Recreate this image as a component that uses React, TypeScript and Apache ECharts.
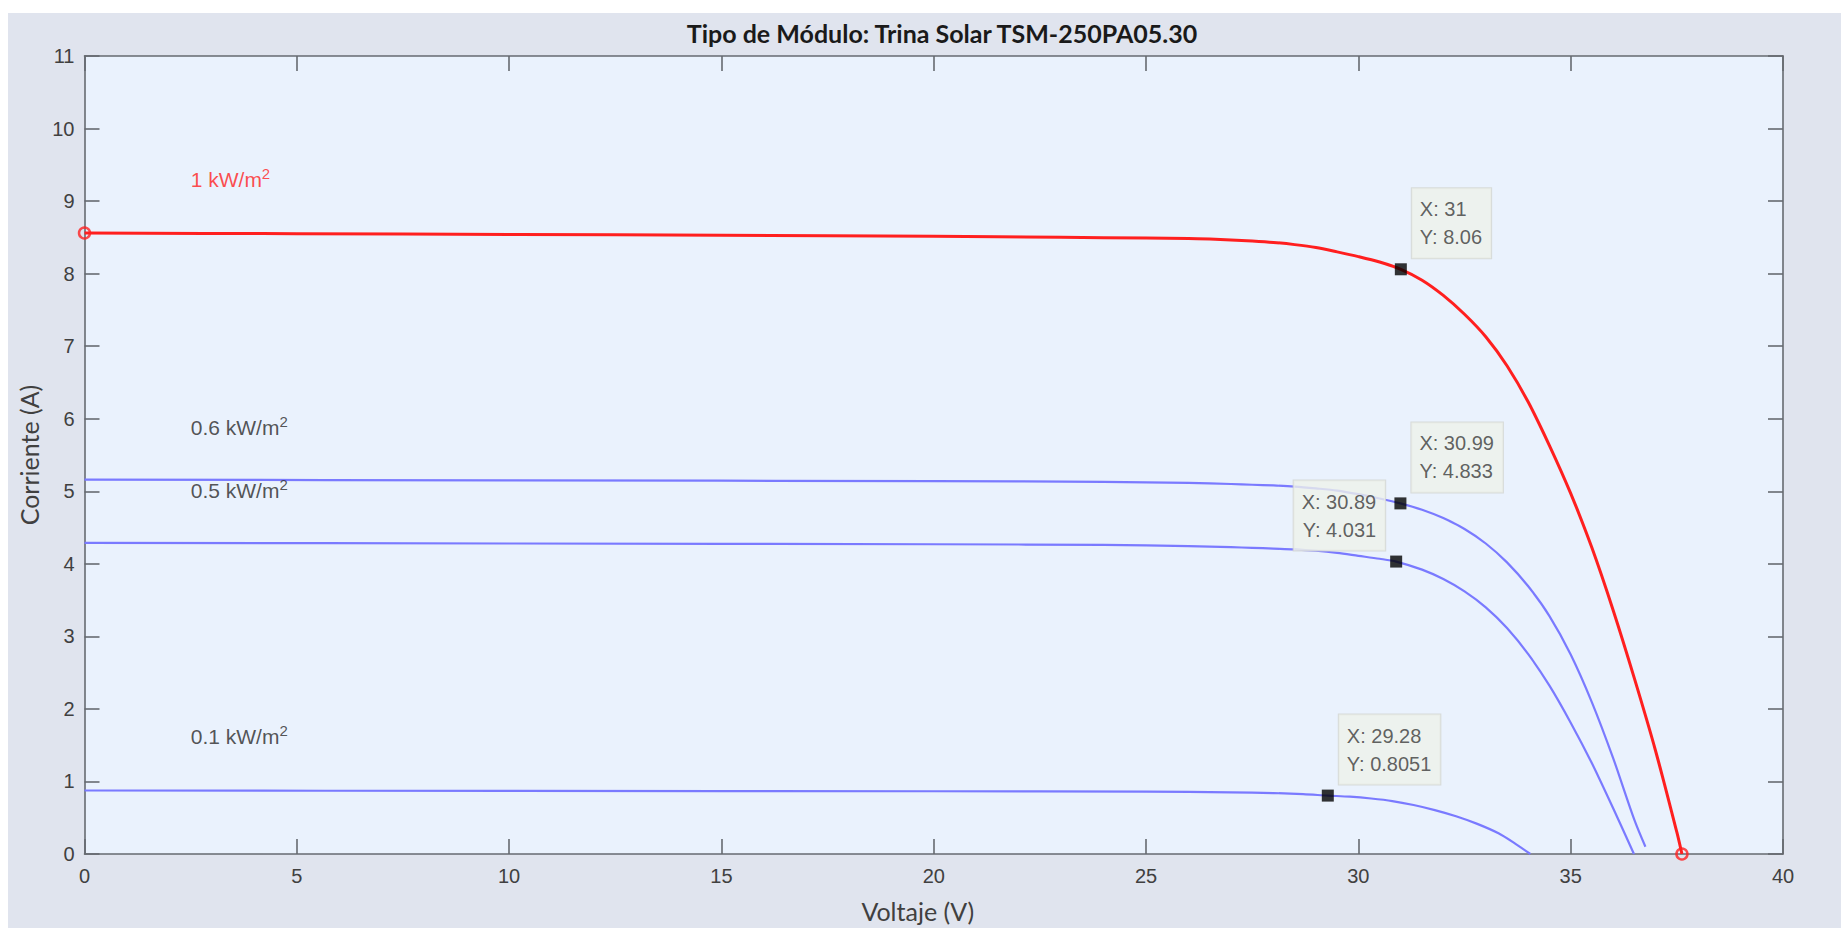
import React, { useEffect, useRef } from 'react';
import * as echarts from 'echarts';

const titleText = 'Tipo de Módulo: Trina Solar TSM-250PA05.30';
const xName = 'Voltaje (V)';
const yName = 'Corriente (A)';

const X_MIN = 0;
const X_MAX = 40;
const X_STEP = 5;
const Y_MIN = 0;
const Y_MAX = 11;
const Y_STEP = 1;

// 1 kW/m2 curve
const v1000 = [0, 5, 10, 15, 20, 23, 25, 26, 26.5, 27, 27.5, 28, 28.5, 29, 29.5, 30, 30.5, 31, 31.5, 32, 32.5, 33, 33.5, 34, 34.5, 35, 35.5, 36, 36.5, 37, 37.5, 37.62];
const i1000 = [8.56, 8.55, 8.54, 8.53, 8.515, 8.5, 8.49, 8.484, 8.476, 8.465, 8.45, 8.43, 8.4, 8.36, 8.3, 8.235, 8.16, 8.06, 7.91, 7.7, 7.44, 7.13, 6.73, 6.23, 5.63, 4.97, 4.22, 3.36, 2.42, 1.42, 0.3, 0];

// 0.6 kW/m2 curve
const v600 = [0, 10, 20, 24, 26, 27, 27.5, 28, 28.5, 29, 29.5, 30, 30.5, 30.99, 31.5, 32, 32.5, 33, 33.5, 34, 34.5, 35, 35.5, 36, 36.5, 36.76];
const i600 = [5.16, 5.15, 5.14, 5.13, 5.115, 5.1, 5.09, 5.08, 5.065, 5.04, 5.01, 4.96, 4.9, 4.833, 4.745, 4.63, 4.48, 4.28, 4.02, 3.69, 3.28, 2.75, 2.09, 1.32, 0.47, 0.1];

// 0.5 kW/m2 curve
const v500 = [0, 10, 20, 24, 26, 27, 27.5, 28, 28.5, 29, 29.5, 30, 30.5, 30.89, 31.5, 32, 32.5, 33, 33.5, 34, 34.5, 35, 35.5, 36, 36.49];
const i500 = [4.29, 4.28, 4.27, 4.26, 4.245, 4.23, 4.22, 4.21, 4.2, 4.18, 4.15, 4.11, 4.07, 4.031, 3.92, 3.79, 3.62, 3.4, 3.115, 2.755, 2.32, 1.81, 1.25, 0.63, 0];

// 0.1 kW/m2 curve
const v100 = [0, 10, 20, 25, 27, 28, 28.7, 29.28, 29.8, 30.3, 30.8, 31.3, 31.8, 32.3, 32.8, 33.3, 33.7, 34.05];
const i100 = [0.875, 0.87, 0.865, 0.86, 0.85, 0.84, 0.825, 0.8051, 0.79, 0.765, 0.73, 0.675, 0.605, 0.52, 0.415, 0.285, 0.14, 0];

// data tips
const tipX = [31, 30.99, 30.89, 29.28];
const tipY = [8.06, 4.833, 4.031, 0.8051];

// irradiance annotations
const annText = ['1 kW/m', '0.6 kW/m', '0.5 kW/m', '0.1 kW/m'];
const annX = [2.5, 2.5, 2.5, 2.5];
const annY = [9.3, 5.88, 5.01, 1.62];

const RED = '#ff1f1f';
const BLUE = '#7a7aff';
const AXIS = '#666a70';
const TEXT = '#404040';
const TICK_FONT = '"Liberation Sans", Arial, sans-serif';
const NAME_FONT = 'Lato, "Open Sans", sans-serif';

const zip = (a: number[], b: number[]) => a.map((v, k) => [v, b[k]]);

export default function App() {
  const ref = useRef<HTMLDivElement>(null);
  useEffect(() => {
    const chart = echarts.init(ref.current!, null, { renderer: 'svg' });
    const tipLeft = [false, false, true, false];
    const annColors = [RED, '#2a2a2a', '#2a2a2a', '#2a2a2a'];

    const axisCommon = {
      type: 'value' as const,
      axisLine: { show: true, onZero: false, lineStyle: { color: AXIS, width: 1.6 } },
      axisTick: { show: true, inside: true, length: 15, lineStyle: { color: AXIS, width: 1.6 } },
      splitLine: { show: false },
    };

    const lineCommon = {
      type: 'line' as const,
      showSymbol: false,
      smooth: 0.3,
    };

    const option: any = {
      animation: false,
      backgroundColor: 'transparent',
      title: {
        text: titleText,
        left: 934,
        textAlign: 'center',
        top: 7,
        padding: 0,
        textStyle: { fontFamily: NAME_FONT, fontWeight: 'bold', fontSize: 25, color: '#1a1a1a' },
      },
      grid: {
        left: 76.5,
        right: 58,
        top: 43,
        bottom: 71,
        show: true,
        backgroundColor: '#eaf2fd',
        borderWidth: 0,
      },
      xAxis: [
        {
          ...axisCommon,
          min: X_MIN,
          max: X_MAX,
          interval: X_STEP,
          position: 'bottom',
          axisLabel: { color: TEXT, fontSize: 20, fontFamily: TICK_FONT, margin: 12 },
          name: xName,
          nameLocation: 'middle',
          nameGap: 44,
          nameTextStyle: { fontFamily: NAME_FONT, fontSize: 25, color: TEXT, padding: [0, 32, 0, 0] },
        },
        {
          ...axisCommon,
          min: X_MIN,
          max: X_MAX,
          interval: X_STEP,
          position: 'top',
          axisLabel: { show: false },
        },
      ],
      yAxis: [
        {
          ...axisCommon,
          min: Y_MIN,
          max: Y_MAX,
          interval: Y_STEP,
          position: 'left',
          axisLabel: { color: TEXT, fontSize: 20, fontFamily: TICK_FONT, margin: 10 },
          name: yName,
          nameLocation: 'middle',
          nameGap: 29,
          nameTextStyle: { fontFamily: NAME_FONT, fontSize: 25, color: TEXT },
        },
        {
          ...axisCommon,
          min: Y_MIN,
          max: Y_MAX,
          interval: Y_STEP,
          position: 'right',
          axisLabel: { show: false },
        },
      ],
      series: [
        { ...lineCommon, data: zip(v600, i600), lineStyle: { color: BLUE, width: 2.2 }, z: 2 },
        { ...lineCommon, data: zip(v500, i500), lineStyle: { color: BLUE, width: 2.2 }, z: 2 },
        { ...lineCommon, data: zip(v100, i100), lineStyle: { color: BLUE, width: 2.2 }, z: 2 },
        { ...lineCommon, data: zip(v1000, i1000), lineStyle: { color: RED, width: 3 }, z: 3 },
        {
          type: 'scatter',
          data: [
            [v1000[0], i1000[0]],
            [v1000[v1000.length - 1], i1000[i1000.length - 1]],
          ],
          symbol: 'circle',
          symbolSize: 11,
          itemStyle: { color: 'transparent', borderColor: RED, borderWidth: 2.5 },
          z: 4,
          clip: false,
        },
        {
          type: 'scatter',
          symbol: 'rect',
          symbolSize: 12,
          itemStyle: { color: '#000' },
          z: 5,
          data: tipX.map((x, k) => ({
            value: [x, tipY[k]],
            label: {
              show: true,
              formatter: `X: ${x}\nY: ${tipY[k]}`,
              position: tipLeft[k] ? [-5, -5] : [17, -5],
              align: tipLeft[k] ? 'right' : 'left',
              verticalAlign: 'bottom',
              fontSize: 20,
              lineHeight: 28,
              fontFamily: TICK_FONT,
              color: '#3a3a3a',
              backgroundColor: '#eef1ea',
              borderColor: '#d2d5cf',
              borderWidth: 1,
              padding: [7, 9, 7, 8],
            },
          })),
        },
        {
          type: 'scatter',
          symbolSize: 0.1,
          itemStyle: { color: 'transparent' },
          z: 6,
          data: annText.map((t, k) => ({
            value: [annX[k], annY[k]],
            label: {
              show: true,
              position: 'right',
              distance: 0,
              formatter: `{a|${t}}{s|2}`,
              rich: {
                a: { fontSize: 21, fontFamily: TICK_FONT, color: annColors[k], lineHeight: 27 },
                s: { fontSize: 15, fontFamily: TICK_FONT, color: annColors[k], lineHeight: 27, verticalAlign: 'top' },
              },
            },
          })),
        },
      ],
    };
    chart.setOption(option);
    return () => chart.dispose();
  }, []);
  return (
    <div
      ref={ref}
      style={{ position: 'fixed', left: 8, top: 13, width: 1833, height: 915, background: '#e0e4ee', overflow: 'hidden' }}
    />
  );
}
